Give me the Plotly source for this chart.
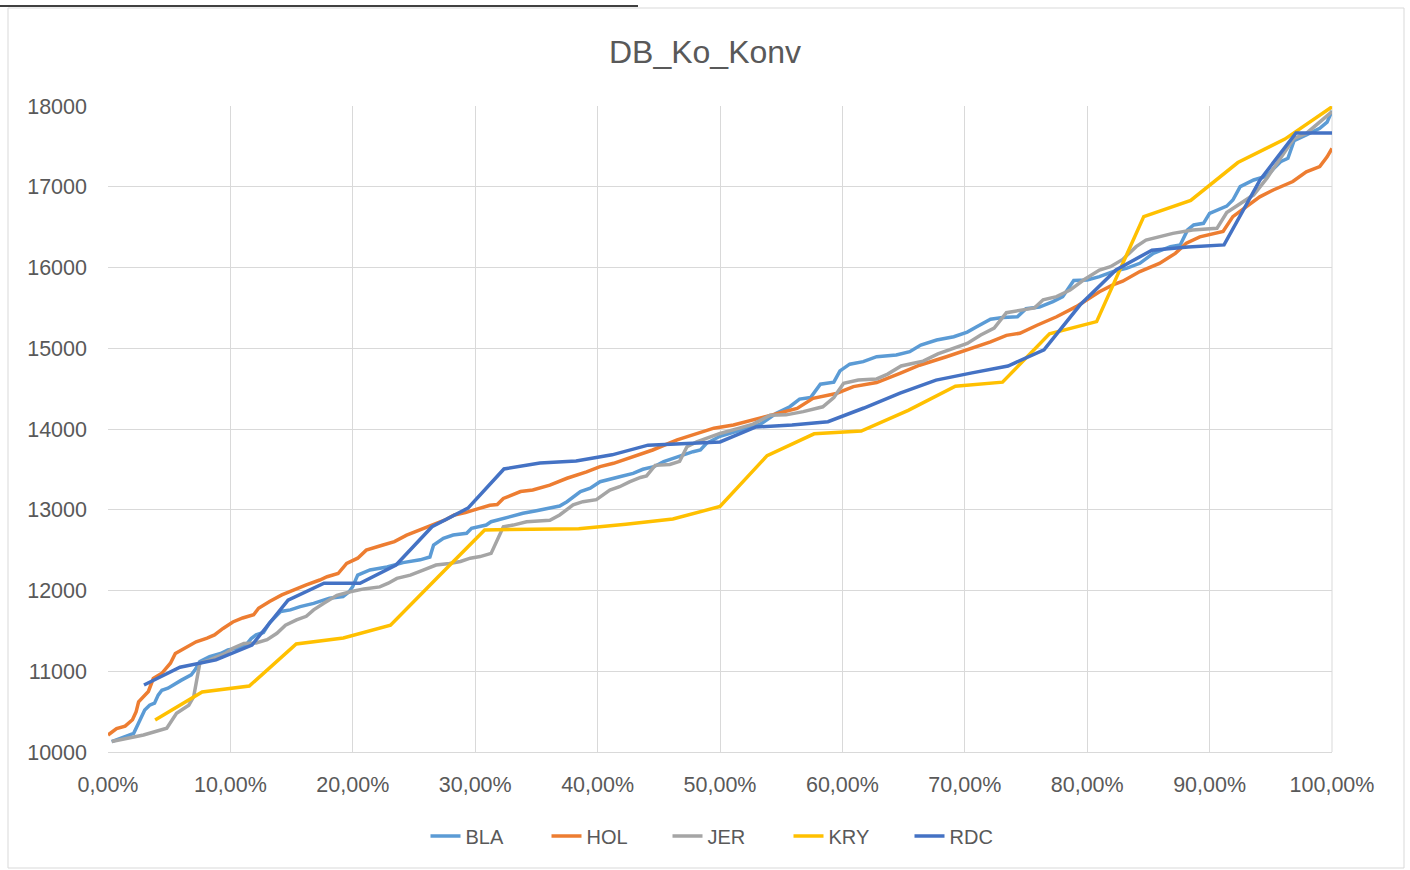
import plotly.graph_objects as go

# ---------------- data ----------------
title_text = "DB_Ko_Konv"
series_names = ["BLA", "HOL", "JER", "KRY", "RDC"]
series_colors = ["#5B9BD5", "#ED7D31", "#A5A5A5", "#FFC000", "#4472C4"]

x_tick_vals = [0, 10, 20, 30, 40, 50, 60, 70, 80, 90, 100]
x_tick_text = ["0,00%", "10,00%", "20,00%", "30,00%", "40,00%", "50,00%",
               "60,00%", "70,00%", "80,00%", "90,00%", "100,00%"]
y_tick_vals = [10000, 11000, 12000, 13000, 14000, 15000, 16000, 17000, 18000]
y_tick_text = ["10000", "11000", "12000", "13000", "14000", "15000", "16000", "17000", "18000"]

BLA_x = [0.3, 1.0, 2.1, 2.5, 3.0, 3.4, 3.8, 4.1, 4.4, 4.9, 5.5, 6.0, 6.8, 7.1, 7.5, 8.3, 9.2, 9.8,
         10.5, 11.3, 11.7, 12.1, 12.7, 13.2, 14.1, 14.9, 15.7, 16.8, 18.1, 19.2, 19.7, 20.0, 20.4,
         21.4, 22.8, 24.1, 25.5, 26.3, 26.6, 27.4, 28.2, 29.3, 29.7, 30.9, 31.3, 32.0, 32.8, 33.9,
         35.0, 36.1, 36.9, 37.5, 38.0, 38.6, 39.4, 40.2, 41.8, 42.9, 43.7, 44.6, 45.4, 46.5, 47.8,
         48.4, 48.9, 50.0, 51.6, 53.3, 54.6, 55.7, 56.5, 57.4, 58.2, 59.3, 59.8, 60.6, 61.7, 62.8,
         64.4, 65.5, 66.4, 67.7, 69.1, 70.2, 70.9, 72.1, 73.1, 74.3, 75.0, 76.1, 77.2, 78.0, 78.9,
         80.0, 81.0, 82.1, 83.2, 84.3, 85.4, 86.8, 87.6, 88.2, 88.7, 89.5, 90.0, 90.6, 91.4, 91.9,
         92.5, 93.6, 94.1, 94.7, 95.2, 95.8, 96.4, 96.9, 97.9, 99.0, 99.6, 100.0]
BLA_y = [10128, 10170, 10232, 10360, 10520, 10580, 10605, 10705, 10765, 10790, 10850, 10890, 10955,
         11015, 11120, 11180, 11220, 11265, 11285, 11330, 11405, 11450, 11480, 11600, 11740, 11760,
         11800, 11840, 11905, 11925, 11985, 12050, 12190, 12254, 12291, 12345, 12380, 12415, 12563,
         12646, 12687, 12708, 12770, 12811, 12852, 12882, 12914, 12956, 12988, 13018, 13046, 13100,
         13162, 13224, 13266, 13347, 13409, 13451, 13501, 13533, 13595, 13657, 13719, 13740, 13823,
         13910, 13988, 14060, 14194, 14276, 14370, 14390, 14555, 14580, 14720, 14803, 14834, 14895,
         14917, 14958, 15040, 15102, 15143, 15200, 15260, 15360, 15380, 15391, 15490, 15510, 15577,
         15639, 15840, 15846, 15887, 15949, 15990, 16052, 16176, 16258, 16279, 16465, 16527, 16547,
         16671, 16713, 16760, 16836, 17001, 17084, 17110, 17134, 17220, 17311, 17352, 17570, 17641,
         17724, 17800, 17940]

HOL_x = [0.0, 0.7, 1.4, 2.0, 2.3, 2.5, 3.3, 3.7, 4.4, 5.1, 5.5, 6.4, 7.2, 8.1, 8.7, 9.4, 10.2, 11.0,
         11.9, 12.3, 13.2, 14.2, 15.1, 16.2, 17.3, 17.9, 18.8, 19.5, 20.4, 21.1, 22.4, 23.4, 24.4,
         25.5, 26.6, 27.5, 28.3, 29.2, 30.2, 31.2, 31.8, 32.3, 33.7, 34.7, 36.1, 37.5, 39.1, 40.2,
         41.3, 42.9, 44.5, 46.5, 47.8, 49.5, 51.1, 52.7, 54.1, 56.3, 57.6, 59.5, 60.9, 62.8, 64.7,
         66.3, 68.5, 70.2, 72.1, 73.4, 74.5, 75.9, 77.5, 79.1, 81.0, 82.1, 82.9, 84.3, 85.9, 87.2,
         88.1, 89.2, 91.1, 91.9, 93.0, 94.1, 95.2, 96.8, 97.9, 99.0, 99.6, 100.0]
HOL_y = [10210, 10290, 10320, 10400, 10500, 10620, 10750, 10910, 10975, 11100, 11220, 11300, 11365,
         11410, 11450, 11530, 11610, 11660, 11700, 11780, 11865, 11945, 12005, 12070, 12130, 12170,
         12210, 12335, 12400, 12500, 12560, 12605, 12685, 12750, 12810, 12870, 12935, 12965, 13010,
         13055, 13065, 13140, 13225, 13245, 13305, 13390, 13470, 13535, 13575, 13655, 13740, 13865,
         13925, 14010, 14050, 14110, 14170, 14255, 14380, 14440, 14525, 14575, 14690, 14790, 14895,
         14980, 15080, 15160, 15185, 15285, 15390, 15515, 15700, 15785, 15830, 15950, 16050, 16175,
         16300, 16380, 16445, 16630, 16755, 16875, 16960, 17065, 17185, 17250, 17370, 17475]

JER_x = [0.3, 1.5, 2.9, 4.8, 5.6, 6.6, 7.0, 7.5, 8.3, 9.6, 10.2, 11.1, 12.1, 13.0, 13.8, 14.5, 15.4,
         16.2, 16.8, 17.6, 18.7, 19.8, 20.9, 22.2, 22.9, 23.6, 24.7, 25.8, 26.8, 27.9, 28.8, 29.6,
         30.4, 31.3, 32.3, 33.1, 34.2, 36.1, 36.9, 38.0, 38.8, 39.9, 41.0, 41.8, 42.6, 43.5, 44.0,
         44.7, 45.9, 46.7, 47.3, 48.1, 48.9, 50.0, 51.5, 52.7, 54.1, 55.4, 56.8, 57.9, 58.4, 59.3,
         60.1, 61.3, 62.8, 63.7, 64.8, 65.8, 66.6, 67.8, 69.1, 70.2, 71.3, 72.4, 73.4, 74.5, 75.7,
         76.4, 77.5, 78.6, 79.7, 81.0, 81.9, 82.9, 84.0, 84.8, 85.9, 87.0, 88.6, 90.6, 91.4, 92.5,
         93.6, 94.7, 95.8, 96.9, 97.9, 99.2, 100.0]
JER_y = [10130, 10170, 10210, 10295, 10480, 10580, 10685, 11100, 11140, 11220, 11285, 11345, 11350,
         11390, 11470, 11570, 11635, 11680, 11760, 11840, 11940, 11985, 12020, 12045, 12090, 12150,
         12190, 12255, 12315, 12335, 12360, 12400, 12420, 12460, 12790, 12810, 12850, 12870, 12935,
         13060, 13100, 13125, 13245, 13285, 13345, 13400, 13420, 13550, 13560, 13600, 13780, 13840,
         13885, 13945, 14008, 14060, 14170, 14175, 14215, 14250, 14275, 14390, 14566, 14607, 14620,
         14680, 14780, 14815, 14840, 14930, 15000, 15060, 15164, 15250, 15440, 15465, 15500, 15600,
         15639, 15721, 15845, 15969, 16010, 16100, 16258, 16340, 16382, 16423, 16465, 16485, 16680,
         16795, 16900, 17110, 17352, 17600, 17661, 17830, 17930]

KRY_x = [3.85, 7.69, 11.54, 15.38, 19.23, 23.08, 26.92, 30.77, 34.62, 38.46, 42.31, 46.15, 50.0,
         53.85, 57.69, 61.54, 65.38, 69.23, 73.08, 76.92, 80.77, 84.62, 88.46, 92.31, 96.15, 100.0]
KRY_y = [10396, 10743, 10817, 11337, 11412, 11570, 12160, 12750, 12760, 12765, 12820, 12885, 13040,
         13670, 13940, 13975, 14230, 14530, 14580, 15180, 15330, 16630, 16830, 17300, 17590, 17990]

RDC_x = [2.94, 5.88, 8.82, 11.76, 14.71, 17.65, 20.59, 23.53, 26.47, 29.41, 32.35, 35.29, 38.24,
         41.18, 44.12, 47.06, 50.0, 52.94, 55.88, 58.82, 61.76, 64.71, 67.65, 70.59, 73.53, 76.47,
         79.41, 82.35, 85.29, 88.24, 91.18, 94.12, 97.06, 100.0]
RDC_y = [10830, 11050, 11140, 11325, 11880, 12090, 12090, 12315, 12790, 13020, 13505, 13580, 13605,
         13680, 13800, 13815, 13840, 14025, 14050, 14090, 14260, 14445, 14605, 14695, 14780, 14980,
         15535, 15970, 16215, 16255, 16280, 17085, 17665, 17665]

series_x = [BLA_x, HOL_x, JER_x, KRY_x, RDC_x]
series_y = [BLA_y, HOL_y, JER_y, KRY_y, RDC_y]

# ---------------- figure ----------------
W, H = 1410, 870
L, R, T, B = 108, 78, 106, 118   # plot area 108..1332 x 106..752
FONT = "Liberation Sans, Arial, sans-serif"
TXT = "#595959"
GRID = "#D9D9D9"

fig = go.Figure()
for name, color, xs, ys in zip(series_names, series_colors, series_x, series_y):
    fig.add_trace(go.Scatter(x=xs, y=ys, name=name, mode="lines",
                             line=dict(color=color, width=3.5)))

def px_x(p):
    return (p - L) / (W - L - R)

def px_y(p):
    return (H - B - p) / (H - T - B)

fig.update_layout(
    width=W, height=H,
    margin=dict(l=L, r=R, t=T, b=B, pad=0),
    paper_bgcolor="white", plot_bgcolor="white",
    font=dict(family=FONT, color=TXT, size=20),
    title=dict(text=title_text, x=0.5, xanchor="center", y=1 - 52 / H, yanchor="middle",
               font=dict(family=FONT, size=32, color=TXT)),
    showlegend=True,
    legend=dict(orientation="h", x=px_x(728), xanchor="center", y=px_y(836), yanchor="middle",
                font=dict(family=FONT, size=20, color=TXT),
                entrywidth=76, entrywidthmode="pixels", bgcolor="rgba(0,0,0,0)"),
    xaxis=dict(range=[0, 100], tickvals=x_tick_vals, ticktext=x_tick_text,
               showgrid=True, gridcolor=GRID, gridwidth=1, zeroline=False,
               showline=True, linecolor=GRID, linewidth=1, ticks="",
               ticklabelstandoff=13, tickfont=dict(family=FONT, size=21.5, color=TXT)),
    yaxis=dict(range=[10000, 18000], tickvals=y_tick_vals, ticktext=y_tick_text,
               showgrid=True, gridcolor=GRID, gridwidth=1, zeroline=False,
               showline=False, ticks="", ticklabelstandoff=20,
               tickfont=dict(family=FONT, size=21.5, color=TXT)),
    shapes=[
        dict(type="rect", xref="paper", yref="paper",
             x0=px_x(8), x1=px_x(1404), y0=px_y(868), y1=px_y(8),
             line=dict(color=GRID, width=1), fillcolor="rgba(0,0,0,0)", layer="below"),
        dict(type="line", xref="paper", yref="paper",
             x0=px_x(0), x1=px_x(638), y0=px_y(6), y1=px_y(6),
             line=dict(color="black", width=1.5)),
        dict(type="line", xref="paper", yref="paper",
             x0=1, x1=1, y0=0, y1=1, line=dict(color=GRID, width=1), layer="below"),
    ],
)

fig.write_html("out.html",
               config={"displayModeBar": False},
               post_script="document.body.style.margin='0px';document.body.style.padding='0px';")
